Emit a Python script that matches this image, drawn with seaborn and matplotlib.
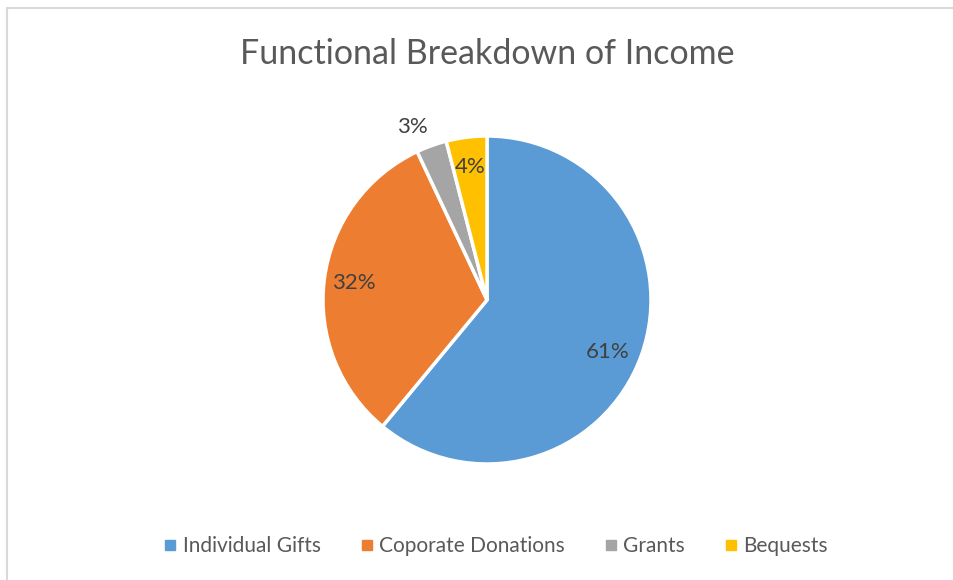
import numpy as np
import matplotlib
matplotlib.use("Agg")
import matplotlib.pyplot as plt
import seaborn as sns
from matplotlib.lines import Line2D

# data
categories = ["Individual Gifts", "Coporate Donations", "Grants", "Bequests"]
shares = [61, 32, 3, 4]
colors = ["#5B9BD5", "#ED7D31", "#A5A5A5", "#FFC000"]
title = "Functional Breakdown of Income"

sns.set_theme(style="white")
plt.rcParams['font.family'] = ['Lato', 'DejaVu Sans']
text_col = "#595959"

W, H = 954, 580
fig = plt.figure(figsize=(W / 100, H / 100), dpi=100)
fig.patch.set_facecolor("white")

# light frame (only top/left visible in the crop)
fig.lines.append(Line2D([7 / W, 1.0], [1 - 8 / H, 1 - 8 / H], transform=fig.transFigure,
                        color="#D9D9D9", linewidth=1.5))
fig.lines.append(Line2D([7 / W, 7 / W], [0.0, 1 - 8 / H], transform=fig.transFigure,
                        color="#D9D9D9", linewidth=1.5))

cx, cy, r = 487, 300, 164
ax = fig.add_axes([(cx - r) / W, (H - cy - r) / H, 2 * r / W, 2 * r / H])
wedges, _ = ax.pie(shares, colors=colors, startangle=90, counterclock=False,
                   wedgeprops=dict(edgecolor="white", linewidth=2.5))
ax.set_xlim(-1, 1)
ax.set_ylim(-1, 1)
ax.set_aspect("equal")
ax.axis("off")

# percentage labels (small slice goes outside like Excel's best fit)
for w, v in zip(wedges, shares):
    mid = (w.theta1 + w.theta2) / 2
    if v < 4:
        d, mid = 1.15, mid + 3.5
    elif v > 50:
        d, mid = 0.8, mid - 3.5
    else:
        d = 0.82
    mid = np.deg2rad(mid)
    ax.text(d * np.cos(mid), d * np.sin(mid), f"{v}%", ha="center", va="center",
            fontsize=16, color="#404040")

fig.text(cx / W, 1 - 54 / H, title, ha="center", va="center", fontsize=24.5, color=text_col)

handles = [Line2D([], [], marker="s", linestyle="", markersize=7,
                  markerfacecolor=c, markeredgecolor=c) for c in colors]
fig.legend(handles, categories, loc="center", bbox_to_anchor=(494 / W, 1 - 546 / H),
           ncol=4, frameon=False, fontsize=15, labelcolor=text_col,
           handletextpad=0.1, columnspacing=1.7, handlelength=1.0)

fig.savefig("out.png", dpi=100, facecolor="white")
